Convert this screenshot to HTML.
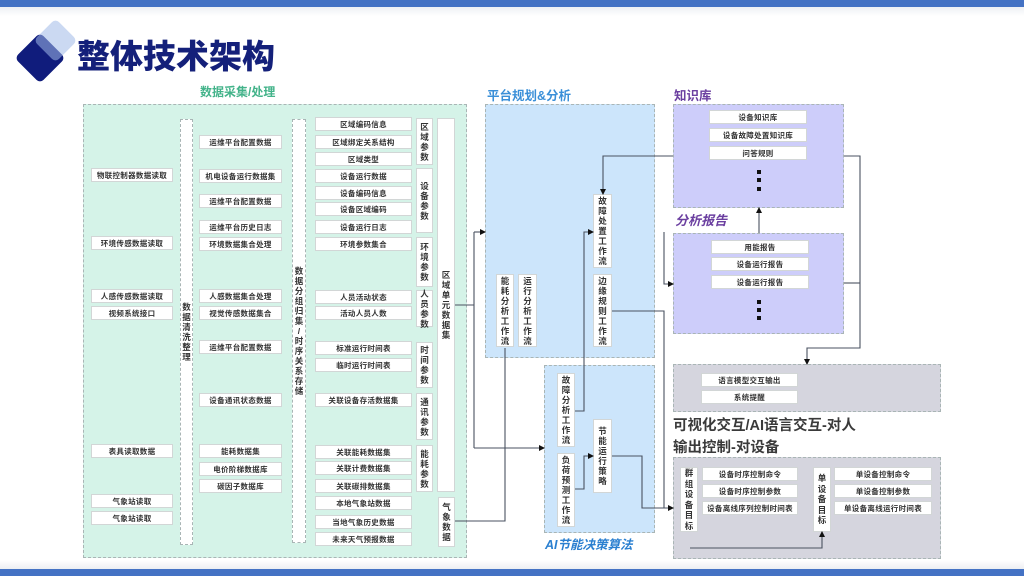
<!DOCTYPE html>
<html><head><meta charset="utf-8">
<style>
*{margin:0;padding:0;box-sizing:border-box}
body{width:1024px;height:576px;position:relative;overflow:hidden;background:#fff;font-family:"Liberation Sans","Noto Sans CJK SC",sans-serif}
.a{position:absolute}
.sec{position:absolute;border:1px dashed #a9b5b5}
.b{position:absolute;background:#fff;height:14px;font-size:7.5px;line-height:13px;text-align:center;color:#333;font-weight:bold;border:1px solid #d2d6d6;white-space:nowrap;overflow:hidden;letter-spacing:0.3px}
.v{position:absolute;background:#fff;font-size:8.5px;line-height:10px;color:#333;font-weight:bold;display:flex;flex-direction:column;align-items:center;justify-content:center;text-align:center;border:1px solid #d2d6d6}
.vd{border:1px dashed #a9b5b5}
.t{position:absolute;font-weight:bold;white-space:nowrap}
</style></head><body>
<!-- top bar -->
<div class="a" style="left:0;top:0;width:1024px;height:7px;background:#4472c4"></div>
<div class="a" style="left:0;top:7px;width:1024px;height:9px;background:linear-gradient(#eef0f4,#fff)"></div>
<!-- bottom bar -->
<div class="a" style="left:0;top:560px;width:1024px;height:9px;background:linear-gradient(#fff,#eceef2)"></div>
<div class="a" style="left:0;top:569px;width:1024px;height:7px;background:#4472c4"></div>

<!-- logo -->
<svg class="a" style="left:0;top:0" width="90" height="95">
<rect x="22" y="40" width="36" height="36" rx="5" fill="#101c7c" transform="rotate(45 40 58)"/>
<rect x="40" y="25" width="31" height="31" rx="5" fill="rgba(160,185,232,0.55)" transform="rotate(45 55.5 40.5)"/>
</svg>
<div class="t" style="left:77px;top:36px;font-size:33px;line-height:42px;color:#14207a;font-weight:900">整体技术架构</div>

<!-- section titles -->
<div class="t" style="left:200px;top:85px;font-size:12px;line-height:15px;color:#43b38a">数据采集/处理</div>
<div class="t" style="left:487px;top:88px;font-size:12.5px;line-height:16px;color:#3a8fd8">平台规划&amp;分析</div>
<div class="t" style="left:674px;top:88px;font-size:12.5px;line-height:16px;color:#6b3fa0">知识库</div>
<div class="t" style="left:675px;top:213px;font-size:13px;line-height:16px;color:#6b3fa0;font-style:italic">分析报告</div>
<div class="t" style="left:545px;top:537px;font-size:12.5px;line-height:16px;color:#2a7fd0;font-style:italic">AI节能决策算法</div>
<div class="t" style="left:673px;top:417px;font-size:14.5px;line-height:18px;color:#3a3a3a">可视化交互/AI语言交互-对人</div>
<div class="t" style="left:673px;top:439px;font-size:14.5px;line-height:18px;color:#3a3a3a">输出控制-对设备</div>

<!-- sections -->
<div class="sec" style="left:83px;top:104px;width:384px;height:454px;background:#d5f3e8"></div>
<div class="sec" style="left:485px;top:104px;width:170px;height:254px;background:#cce5fb"></div>
<div class="sec" style="left:544px;top:365px;width:111px;height:168px;background:#cce5fb"></div>
<div class="sec" style="left:673px;top:104px;width:171px;height:104px;background:#cdcdfa"></div>
<div class="sec" style="left:673px;top:233px;width:171px;height:101px;background:#cdcdfa"></div>
<div class="sec" style="left:673px;top:364px;width:268px;height:48px;background:#d5d5de"></div>
<div class="sec" style="left:673px;top:457px;width:268px;height:102px;background:#d5d5de"></div>

<!-- column 1 -->
<div class="b" style="left:91px;top:168px;width:82px">物联控制器数据读取</div>
<div class="b" style="left:91px;top:236px;width:82px">环境传感数据读取</div>
<div class="b" style="left:91px;top:289px;width:82px">人感传感数据读取</div>
<div class="b" style="left:91px;top:306px;width:82px">视频系统接口</div>
<div class="b" style="left:91px;top:444px;width:82px">表具读取数据</div>
<div class="b" style="left:91px;top:494px;width:82px">气象站读取</div>
<div class="b" style="left:91px;top:511px;width:82px">气象站读取</div>

<!-- column 2 -->
<div class="v vd" style="left:180px;top:119px;width:13px;height:426px">数<br>据<br>清<br>洗<br>整<br>理</div>

<!-- column 3 -->
<div class="b" style="left:199px;top:135px;width:83px">运维平台配置数据</div>
<div class="b" style="left:199px;top:169px;width:83px">机电设备运行数据集</div>
<div class="b" style="left:199px;top:194px;width:83px">运维平台配置数据</div>
<div class="b" style="left:199px;top:220px;width:83px">运维平台历史日志</div>
<div class="b" style="left:199px;top:237px;width:83px">环境数据集合处理</div>
<div class="b" style="left:199px;top:289px;width:83px">人感数据集合处理</div>
<div class="b" style="left:199px;top:306px;width:83px">视觉传感数据集合</div>
<div class="b" style="left:199px;top:340px;width:83px">运维平台配置数据</div>
<div class="b" style="left:199px;top:393px;width:83px">设备通讯状态数据</div>
<div class="b" style="left:199px;top:444px;width:83px">能耗数据集</div>
<div class="b" style="left:199px;top:462px;width:83px">电价阶梯数据库</div>
<div class="b" style="left:199px;top:479px;width:83px">碳因子数据库</div>

<!-- column 4 -->
<div class="v vd" style="left:292px;top:119px;width:14px;height:424px">数<br>据<br>分<br>组<br>归<br>集<br>/<br>时<br>序<br>关<br>系<br>存<br>储</div>

<!-- column 5 -->
<div class="b" style="left:315px;top:117px;width:97px">区域编码信息</div>
<div class="b" style="left:315px;top:135px;width:97px">区域绑定关系结构</div>
<div class="b" style="left:315px;top:152px;width:97px">区域类型</div>
<div class="b" style="left:315px;top:169px;width:97px">设备运行数据</div>
<div class="b" style="left:315px;top:186px;width:97px">设备编码信息</div>
<div class="b" style="left:315px;top:202px;width:97px">设备区域编码</div>
<div class="b" style="left:315px;top:220px;width:97px">设备运行日志</div>
<div class="b" style="left:315px;top:237px;width:97px">环境参数集合</div>
<div class="b" style="left:315px;top:290px;width:97px">人员活动状态</div>
<div class="b" style="left:315px;top:306px;width:97px">活动人员人数</div>
<div class="b" style="left:315px;top:341px;width:97px">标准运行时间表</div>
<div class="b" style="left:315px;top:358px;width:97px">临时运行时间表</div>
<div class="b" style="left:315px;top:393px;width:97px">关联设备存活数据集</div>
<div class="b" style="left:315px;top:445px;width:97px">关联能耗数据集</div>
<div class="b" style="left:315px;top:461px;width:97px">关联计费数据集</div>
<div class="b" style="left:315px;top:479px;width:97px">关联碳排数据集</div>
<div class="b" style="left:315px;top:496px;width:97px">本地气象站数据</div>
<div class="b" style="left:315px;top:515px;width:97px">当地气象历史数据</div>
<div class="b" style="left:315px;top:532px;width:97px">未来天气预报数据</div>

<!-- column 6 params -->
<div class="v" style="left:416px;top:118px;width:17px;height:47px">区<br>域<br>参<br>数</div>
<div class="v" style="left:416px;top:168px;width:17px;height:65px">设<br>备<br>参<br>数</div>
<div class="v" style="left:416px;top:237px;width:17px;height:50px">环<br>境<br>参<br>数</div>
<div class="v" style="left:416px;top:290px;width:17px;height:37px">人<br>员<br>参<br>数</div>
<div class="v" style="left:416px;top:342px;width:17px;height:46px">时<br>间<br>参<br>数</div>
<div class="v" style="left:416px;top:393px;width:17px;height:47px">通<br>讯<br>参<br>数</div>
<div class="v" style="left:416px;top:445px;width:17px;height:47px">能<br>耗<br>参<br>数</div>

<!-- column 7 -->
<div class="v" style="left:437px;top:118px;width:18px;height:374px">区<br>域<br>单<br>元<br>数<br>据<br>集</div>
<div class="v" style="left:438px;top:497px;width:17px;height:50px">气<br>象<br>数<br>据</div>

<!-- platform -->
<div class="v" style="left:496px;top:274px;width:18px;height:73px">能<br>耗<br>分<br>析<br>工<br>作<br>流</div>
<div class="v" style="left:518px;top:274px;width:19px;height:73px">运<br>行<br>分<br>析<br>工<br>作<br>流</div>
<div class="v" style="left:593px;top:194px;width:19px;height:74px">故<br>障<br>处<br>置<br>工<br>作<br>流</div>
<div class="v" style="left:593px;top:274px;width:19px;height:73px">边<br>缘<br>规<br>则<br>工<br>作<br>流</div>

<!-- AI -->
<div class="v" style="left:557px;top:373px;width:18px;height:74px">故<br>障<br>分<br>析<br>工<br>作<br>流</div>
<div class="v" style="left:557px;top:453px;width:18px;height:74px">负<br>荷<br>预<br>测<br>工<br>作<br>流</div>
<div class="v" style="left:593px;top:419px;width:19px;height:74px">节<br>能<br>运<br>行<br>策<br>略</div>

<!-- knowledge -->
<div class="b" style="left:709px;top:110px;width:98px">设备知识库</div>
<div class="b" style="left:709px;top:128px;width:98px">设备故障处置知识库</div>
<div class="b" style="left:709px;top:146px;width:98px">问答规则</div>
<div class="a" style="left:757px;top:170px;width:4px;height:4px;background:#111"></div>
<div class="a" style="left:757px;top:178px;width:4px;height:4px;background:#111"></div>
<div class="a" style="left:757px;top:187px;width:4px;height:4px;background:#111"></div>

<div class="b" style="left:711px;top:240px;width:98px">用能报告</div>
<div class="b" style="left:711px;top:257px;width:98px">设备运行报告</div>
<div class="b" style="left:711px;top:275px;width:98px">设备运行报告</div>
<div class="a" style="left:757px;top:300px;width:4px;height:4px;background:#111"></div>
<div class="a" style="left:757px;top:308px;width:4px;height:4px;background:#111"></div>
<div class="a" style="left:757px;top:316px;width:4px;height:4px;background:#111"></div>

<!-- language output -->
<div class="b" style="left:701px;top:373px;width:97px">语言模型交互输出</div>
<div class="b" style="left:701px;top:390px;width:97px">系统提醒</div>

<!-- output control -->
<div class="v" style="left:680px;top:467px;width:18px;height:65px;line-height:10.5px">群<br>组<br>设<br>备<br>目<br>标</div>
<div class="b" style="left:702px;top:467px;width:96px">设备时序控制命令</div>
<div class="b" style="left:702px;top:484px;width:96px">设备时序控制参数</div>
<div class="b" style="left:702px;top:501px;width:96px">设备离线序列控制时间表</div>
<div class="v" style="left:813px;top:467px;width:18px;height:65px;line-height:10.5px">单<br>设<br>备<br>目<br>标</div>
<div class="b" style="left:834px;top:467px;width:98px">单设备控制命令</div>
<div class="b" style="left:834px;top:484px;width:98px">单设备控制参数</div>
<div class="b" style="left:834px;top:501px;width:98px">单设备离线运行时间表</div>

<!-- connectors -->
<svg class="a" style="left:0;top:0" width="1024" height="576">
<defs>
<marker id="ar" markerWidth="6" markerHeight="6" refX="5" refY="3" orient="auto" markerUnits="userSpaceOnUse">
<path d="M0,0 L6,3 L0,6 z" fill="#111"/>
</marker>
</defs>
<g fill="none" stroke="#4a5260" stroke-width="1.1">
<polyline points="455,305 474,305"/>
<polyline points="474,232 474,448"/>
<polyline points="474,232 485,232" marker-end="url(#ar)"/>
<polyline points="474,448 544,448" marker-end="url(#ar)"/>
<polyline points="455,521 505,521 505,348"/>
<polyline points="673,156 603,156 603,194" marker-end="url(#ar)"/>
<polyline points="575,411 584,411 584,232 593,232" marker-end="url(#ar)"/>
<polyline points="575,489 584,489 584,456 593,456" marker-end="url(#ar)"/>
<polyline points="612,311 664,311 664,508 673,508" marker-end="url(#ar)"/>
<polyline points="612,456 642,456 642,508 664,508"/>
<polyline points="664,232 664,284 673,284" marker-end="url(#ar)"/>
<polyline points="844,156 860,156 860,348 807,348 807,364" marker-end="url(#ar)"/>
<polyline points="844,283 860,283"/>
<polyline points="759,233 759,208" marker-end="url(#ar)"/>
<polyline points="690,548 822,548 822,532" marker-end="url(#ar)"/>
</g>
</svg>
</body></html>
